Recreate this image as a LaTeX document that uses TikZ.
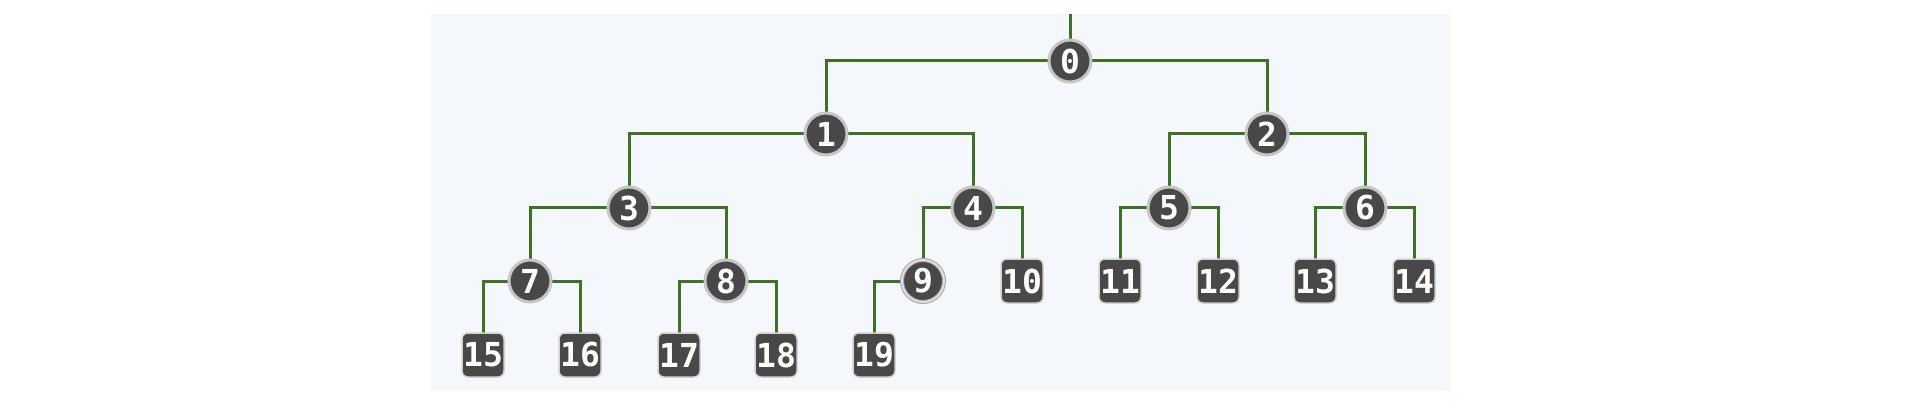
\documentclass[tikz,border=0pt]{standalone}
\usepackage{fontspec}
\newfontfamily\keyfont{DejaVu Sans Mono}
\usetikzlibrary{backgrounds}
\definecolor{branch}{RGB}{62,112,38}
\definecolor{panel}{RGB}{244,247,251}
\definecolor{knob}{RGB}{72,72,72}

\begin{document}
\begin{tikzpicture}[x=1pt,y=-1pt,
      key/.style={fill=knob,text=white,inner sep=0pt,
        font=\keyfont\bfseries\fontsize{33}{33}\selectfont},
      inner/.style={key,circle,draw=gray!45,line width=3pt,minimum size=42pt},
      picked/.style={inner,draw=gray!70,line width=1pt,double=gray!25,double distance=2pt},
      leaf/.style={key,rectangle,rounded corners=6pt,draw=gray!35,line width=1.5pt,
        minimum width=42pt,minimum height=44pt},
      link/.style={draw=branch,line width=3pt}]
      \useasboundingbox (0,0) rectangle (1908,414);
      % heap nodes
      \node[inner] (n0) at (1070,61) {0};
      \node[inner] (n1) at (826,134) {1};
      \node[inner] (n2) at (1267,134) {2};
      \node[inner] (n3) at (629,208) {3};
      \node[inner] (n4) at (973,208) {4};
      \node[inner] (n5) at (1169,208) {5};
      \node[inner] (n6) at (1365,208) {6};
      \node[inner] (n7) at (530,281) {7};
      \node[inner] (n8) at (726,281) {8};
      \node[picked] (n9) at (923,281) {9};
      \node[leaf] (n10) at (1022,281) {10};
      \node[leaf] (n11) at (1120,281) {11};
      \node[leaf] (n12) at (1218,281) {12};
      \node[leaf] (n13) at (1315,281) {13};
      \node[leaf] (n14) at (1414,281) {14};
      \node[leaf] (n15) at (483,355) {15};
      \node[leaf] (n16) at (580,355) {16};
      \node[leaf] (n17) at (679,355) {17};
      \node[leaf] (n18) at (776,355) {18};
      \node[leaf] (n19) at (874,355) {19};
      \coordinate (top) at (1070,14);
      \begin{scope}[on background layer]
        \fill[panel] (431,14) rectangle (1450,391);
        \draw[link] (top) -- (n0.center);
        \draw[link] (n1.center) |- (n0.center) -| (n2.center);
        \draw[link] (n3.center) |- (n1.center) -| (n4.center);
        \draw[link] (n5.center) |- (n2.center) -| (n6.center);
        \draw[link] (n7.center) |- (n3.center) -| (n8.center);
        \draw[link] (n9.center) |- (n4.center) -| (n10.center);
        \draw[link] (n11.center) |- (n5.center) -| (n12.center);
        \draw[link] (n13.center) |- (n6.center) -| (n14.center);
        \draw[link] (n15.center) |- (n7.center) -| (n16.center);
        \draw[link] (n17.center) |- (n8.center) -| (n18.center);
        \draw[link] (n19.center) |- (n9.center);
      \end{scope}
    \end{tikzpicture}
\end{document}
